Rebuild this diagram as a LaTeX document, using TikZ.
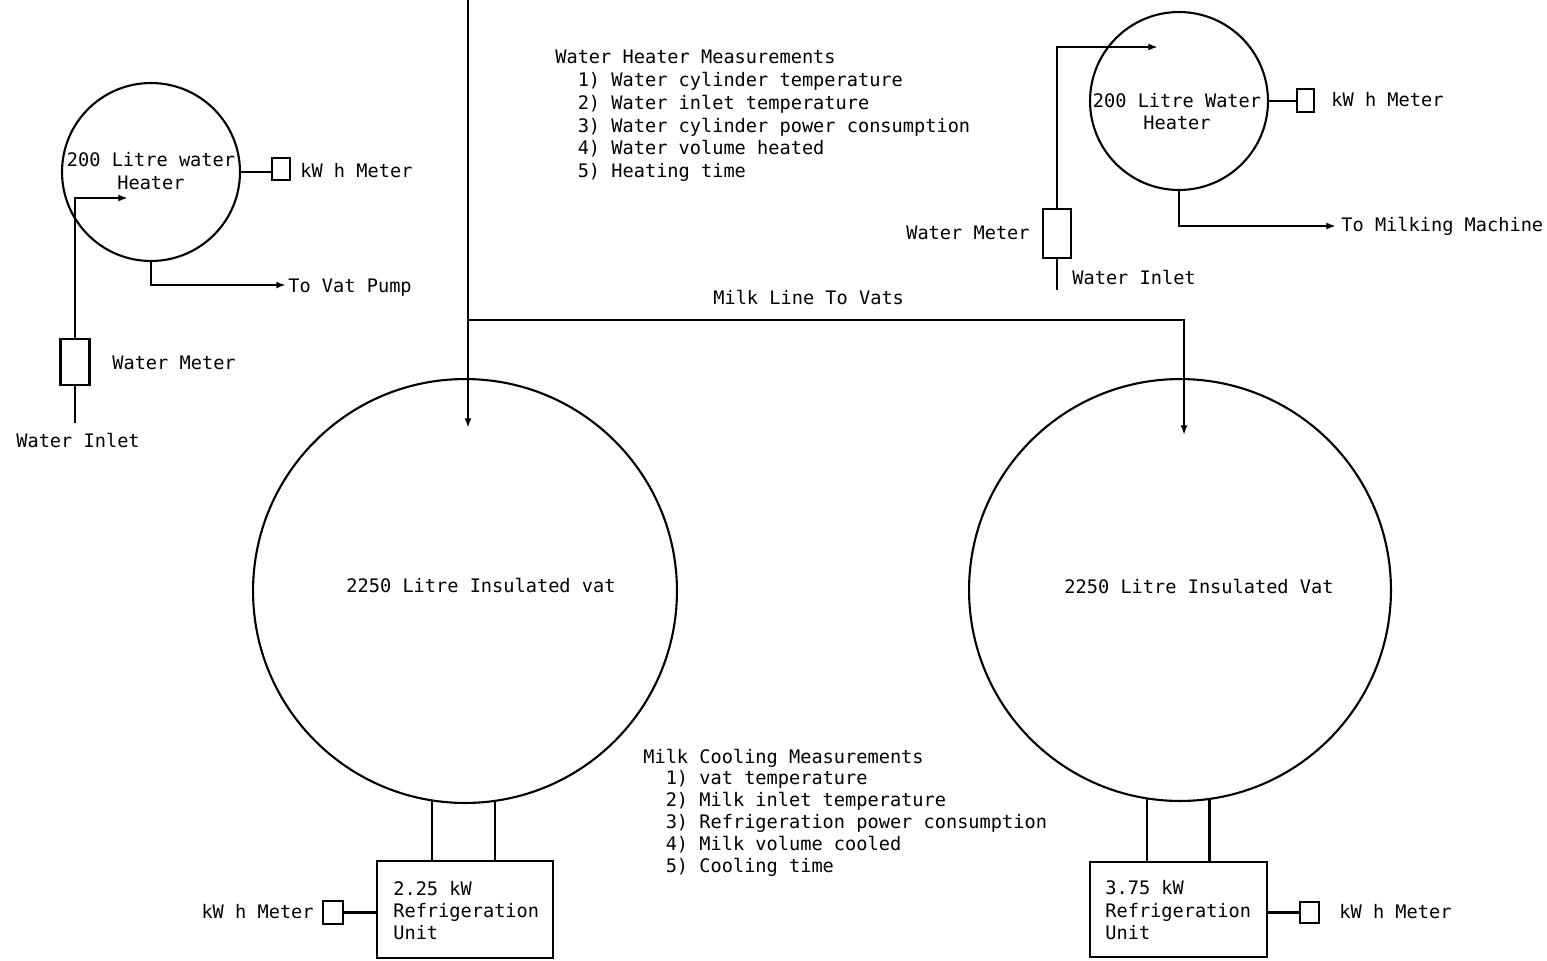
\documentclass[tikz,border=0pt]{standalone}
\usepackage{fontspec}
\usetikzlibrary{arrows.meta}
\newfontfamily\twfont{DejaVu Sans Mono}
\tikzset{
  pipe/.style={line width=1.2pt},
  flow/.style={line width=1.2pt,-{Latex[length=5.5pt,width=4pt]}},
  tank/.style={circle,draw,line width=1.2pt,inner sep=0pt},
  meterbox/.style={rectangle,draw,line width=1.2pt,inner sep=0pt},
  lbl/.style={inner sep=0pt,font=\twfont\fontsize{10.6}{13}\selectfont},
  lblw/.style={lbl,anchor=base west},
  lble/.style={lbl,anchor=base east},
  lblc/.style={lbl,anchor=base},
}
\begin{document}
\begin{tikzpicture}[x=0.02cm,y=-0.02cm]
\useasboundingbox (0,0) rectangle (1547,960);

% ---------- left water heater ----------
\node[tank,minimum size=3.56cm] (lh) at (151,172) {};
\node[lblc] (lht1) at (151,166) {200 Litre water};
\node[lblc] (lht2) at (151,189) {Heater};
\node[meterbox,minimum width=0.36cm,minimum height=0.44cm] (lkwh) at (281,169) {};
\node[lblw] (lkwht) at (300,177) {kW h Meter};
\draw[pipe] (lh.east) -- (lh.east -| lkwh.west);
\node[meterbox,minimum width=0.58cm,minimum height=0.92cm] (lwm) at (75,362) {};
\node[lblw] (lwmt) at (112,369) {Water Meter};
\coordinate (lin) at (75,423);
\coordinate (lharr) at (128,198);
\draw[pipe] (lin) -- (lwm.south);
\draw[flow] (lwm.north) |- (lharr);
\node[lblw] (lint) at (16,447) {Water Inlet};
\coordinate (lvp) at (286,285);
\draw[flow] (lh.south) |- (lvp);
\node[lblw] (lvpt) at (288,292) {To Vat Pump};

% ---------- right water heater ----------
\node[tank,minimum size=3.56cm] (rh) at (1179,101) {};
\node[lblc] (rht1) at (1177,107) {200 Litre Water};
\node[lblc] (rht2) at (1177,129) {Heater};
\node[meterbox,minimum width=0.34cm,minimum height=0.46cm] (rkwh) at (1305.5,100.5) {};
\node[lblw] (rkwht) at (1331,106) {kW h Meter};
\draw[pipe] (rh.east) -- (rh.east -| rkwh.west);
\node[meterbox,minimum width=0.56cm,minimum height=0.98cm] (rwm) at (1057,233.5) {};
\node[lble] (rwmt) at (1030,239) {Water Meter};
\coordinate (rin) at (1057,290);
\coordinate (rharr) at (1158,47);
\draw[pipe] (rin) -- (rwm.south);
\draw[flow] (rwm.north) |- (rharr);
\node[lblw] (rint) at (1072,284) {Water Inlet};
\coordinate (rmm) at (1336,226);
\draw[flow] (rh.south) |- (rmm);
\node[lblw] (rmmt) at (1341,231) {To Milking Machine};

% ---------- water heater measurements ----------
\node[lblw] (wh0) at (555,63) {Water Heater Measurements};
\node[lblw] (wh1) at (555,86) {\ \ 1) Water cylinder temperature};
\node[lblw] (wh2) at (555,109) {\ \ 2) Water inlet temperature};
\node[lblw] (wh3) at (555,132) {\ \ 3) Water cylinder power consumption};
\node[lblw] (wh4) at (555,154) {\ \ 4) Water volume heated};
\node[lblw] (wh5) at (555,177) {\ \ 5) Heating time};

% ---------- vats ----------
\node[tank,minimum size=8.48cm] (lvat) at (465,591) {};
\node[lblc] (lvatt) at (481,592) {2250 Litre Insulated vat};
\node[tank,minimum size=8.44cm] (rvat) at (1180,590) {};
\node[lblc] (rvatt) at (1199,593) {2250 Litre Insulated Vat};

% ---------- milk line ----------
\coordinate (mtop) at (468,0);
\coordinate (larr) at (468,428);
\coordinate (junc) at (468,320);
\coordinate (rarr) at (1184,435);
\draw[flow] (mtop) -- (larr);
\draw[flow] (junc) -| (rarr);
\node[lblw] (mlt) at (713,304) {Milk Line To Vats};

% ---------- refrigeration units ----------
\node[meterbox,minimum width=3.52cm,minimum height=1.94cm] (lref) at (465,909.5) {};
\node[lblw] (lref1) at (393,895) {2.25 kW};
\node[lblw] (lref2) at (393,917) {Refrigeration};
\node[lblw] (lref3) at (393,939) {Unit};
\draw[pipe] (lvat.261.3) -- (lvat.261.3 |- lref.north);
\draw[pipe] (lvat.278.1) -- (lvat.278.1 |- lref.north);
\node[meterbox,minimum width=0.4cm,minimum height=0.46cm] (lbk) at (333,912.5) {};
\draw[pipe] (lbk.east) -- (lbk.east -| lref.west);
\node[lble] (lbkt) at (314,918) {kW h Meter};

\node[meterbox,minimum width=3.54cm,minimum height=1.9cm] (rref) at (1178.5,909.5) {};
\node[lblw] (rref1) at (1105,894) {3.75 kW};
\node[lblw] (rref2) at (1105,917) {Refrigeration};
\node[lblw] (rref3) at (1105,939) {Unit};
\draw[pipe] (rvat.261.55) -- (rvat.261.55 |- rref.north);
\draw[pipe] (rvat.278.45) -- (rvat.278.45 |- rref.north);
\node[meterbox,minimum width=0.38cm,minimum height=0.42cm] (rbk) at (1309.5,912.5) {};
\draw[pipe] (rbk.west) -- (rbk.west -| rref.east);
\node[lblw] (rbkt) at (1339,918) {kW h Meter};

% ---------- milk cooling measurements ----------
\node[lblw] (mc0) at (643,763) {Milk Cooling Measurements};
\node[lblw] (mc1) at (643,784) {\ \ 1) vat temperature};
\node[lblw] (mc2) at (643,806) {\ \ 2) Milk inlet temperature};
\node[lblw] (mc3) at (643,828) {\ \ 3) Refrigeration power consumption};
\node[lblw] (mc4) at (643,850) {\ \ 4) Milk volume cooled};
\node[lblw] (mc5) at (643,872) {\ \ 5) Cooling time};
\end{tikzpicture}
\end{document}
